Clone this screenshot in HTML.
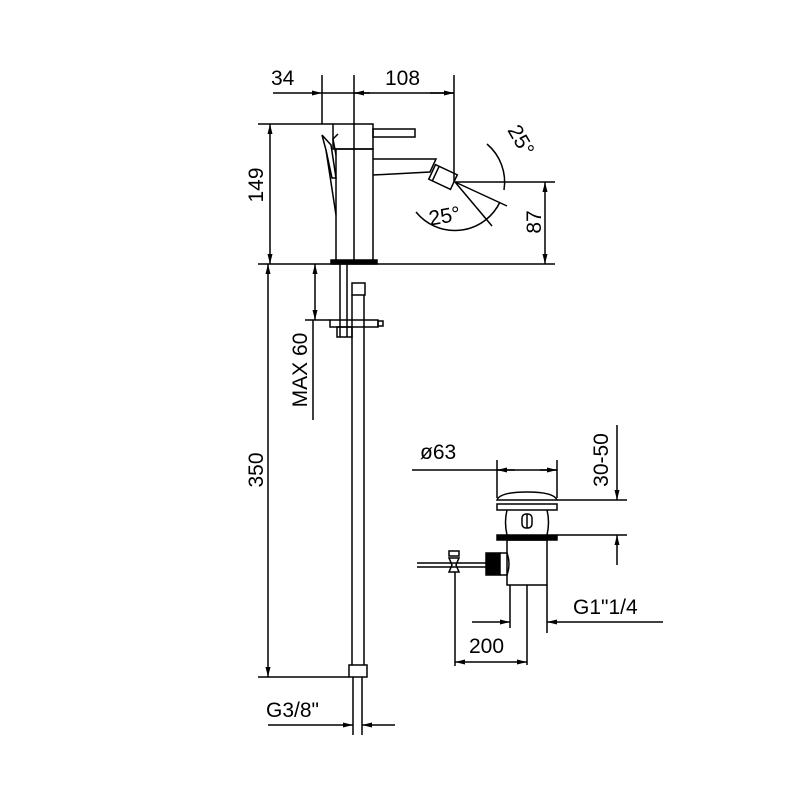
<!DOCTYPE html>
<html><head><style>body{margin:0;background:#fff}svg{display:block}</style></head><body>
<svg width="800" height="800" viewBox="0 0 800 800" xmlns="http://www.w3.org/2000/svg">
<defs>
<marker id="a" viewBox="0 0 10 6" refX="10" refY="3" markerWidth="10" markerHeight="6" orient="auto-start-reverse" markerUnits="userSpaceOnUse"><path d="M0,0.5L10,3L0,5.5z" fill="#000"/></marker>
</defs>
<rect width="800" height="800" fill="#fff"/>
<g stroke="#000" stroke-width="1.5" fill="none">
<line x1="322" y1="75" x2="322" y2="124"/>
<line x1="354" y1="75" x2="354" y2="264"/>
<line x1="454" y1="75" x2="454" y2="182"/>
<line x1="273" y1="93" x2="322" y2="93" marker-end="url(#a)"/>
<line x1="322" y1="93" x2="454" y2="93"/>
<line x1="354" y1="93" x2="370" y2="93" marker-start="url(#a)"/>
<line x1="430" y1="93" x2="454" y2="93" marker-end="url(#a)"/>
<line x1="258" y1="124" x2="333" y2="124"/>
<line x1="258" y1="264" x2="555" y2="264"/>
<line x1="455" y1="182" x2="555" y2="182"/>
<line x1="270" y1="124" x2="270" y2="264" marker-start="url(#a)" marker-end="url(#a)"/>
<line x1="545" y1="182" x2="545" y2="264" marker-start="url(#a)" marker-end="url(#a)"/>
<rect x="333" y="124" width="40" height="25"/>
<rect x="336" y="149" width="37" height="112"/>
<rect x="373" y="129" width="42" height="8"/>
<path d="M373,159 L436,159 L430,172 L373,175"/>
<path d="M336,155 L333,139 L338,134"/>
<path d="M322,135 L326,150 L332,178 L336,178 L331,145 Z"/>
<line x1="326" y1="150" x2="336" y2="215"/>
<g transform="translate(443,177) rotate(25)"><rect x="-12" y="-8" width="24" height="16"/><line x1="-8" y1="-8" x2="-8" y2="8"/></g>
<line x1="455" y1="182" x2="507" y2="206"/>
<line x1="455" y1="182" x2="492" y2="226"/>
<path d="M487,144 A50,50 0 0 1 504,190" />
<path d="M500,202 A50,50 0 0 1 416,212"/>
<rect x="331" y="260" width="46" height="4" fill="#000"/>
<line x1="340" y1="264" x2="340" y2="337"/>
<line x1="347" y1="264" x2="347" y2="337"/>
<rect x="352" y="283" width="13" height="12"/>
<line x1="352" y1="295" x2="352" y2="665"/>
<line x1="364" y1="295" x2="364" y2="665"/>
<rect x="330" y="320" width="48" height="7"/>
<rect x="378" y="321" width="5" height="5"/>
<rect x="337" y="327" width="15" height="10"/>
<rect x="349" y="665" width="18" height="12"/>
<line x1="353" y1="677" x2="353" y2="735"/>
<line x1="362" y1="677" x2="362" y2="735"/>
<line x1="305" y1="320" x2="330" y2="320"/>
<line x1="315" y1="264" x2="315" y2="320" marker-start="url(#a)" marker-end="url(#a)"/>
<line x1="313" y1="320" x2="313" y2="420"/>
<line x1="268" y1="264" x2="268" y2="677" marker-start="url(#a)" marker-end="url(#a)"/>
<line x1="258" y1="677" x2="349" y2="677"/>
<line x1="268" y1="725" x2="353" y2="725" marker-end="url(#a)"/>
<line x1="362" y1="725" x2="395" y2="725" marker-start="url(#a)"/>
<line x1="412" y1="470" x2="557" y2="470"/>
<line x1="497" y1="470" x2="515" y2="470" marker-start="url(#a)"/>
<line x1="540" y1="470" x2="557" y2="470" marker-end="url(#a)"/>
<line x1="497" y1="460" x2="497" y2="498"/>
<line x1="557" y1="460" x2="557" y2="498"/>
<path d="M497,500 Q500,492 527,492 Q554,492 557,500 Z"/>
<line x1="557" y1="500" x2="627" y2="500"/>
<line x1="557" y1="535" x2="627" y2="535"/>
<line x1="617" y1="425" x2="617" y2="500" marker-end="url(#a)"/>
<line x1="617" y1="535" x2="617" y2="565" marker-start="url(#a)"/>
<rect x="497" y="504" width="60" height="6"/>
<path d="M507,510 Q504,522 507,535 M547,510 Q550,522 547,535"/>
<rect x="522" y="514" width="10" height="14" rx="4"/>
<line x1="527" y1="514" x2="527" y2="528"/>
<rect x="497" y="535" width="60" height="5" fill="#000"/>
<rect x="507" y="540" width="40" height="45"/>
<line x1="510" y1="585" x2="510" y2="628"/>
<line x1="547" y1="585" x2="547" y2="633"/>
<line x1="527" y1="585" x2="527" y2="665"/>
<line x1="417" y1="563" x2="488" y2="563"/>
<line x1="417" y1="567" x2="488" y2="567"/>
<rect x="449" y="551" width="10" height="5"/>
<path d="M449,558 L459,558 L456,565 L459,572 L449,572 L452,565 Z"/>
<rect x="486" y="553" width="14" height="22" fill="#000"/>
<path d="M500,553 L507,553 Q511,564 507,575 L500,575"/>
<line x1="455" y1="572" x2="455" y2="666"/>
<line x1="455" y1="662" x2="527" y2="662" marker-start="url(#a)" marker-end="url(#a)"/>
<line x1="472" y1="622" x2="510" y2="622" marker-end="url(#a)"/>
<line x1="547" y1="622" x2="663" y2="622" marker-start="url(#a)"/>
</g>
<g font-family="Liberation Sans, sans-serif" font-size="21" fill="#000">
<text x="271" y="85">34</text>
<text x="385" y="85">108</text>
<text transform="translate(263,185) rotate(-90)" text-anchor="middle">149</text>
<text transform="translate(541,222) rotate(-90)" text-anchor="middle">87</text>
<text transform="translate(507,130) rotate(60)">25°</text>
<text x="428" y="222" transform="rotate(-10 450 212)">25°</text>
<text transform="translate(307,370) rotate(-90)" text-anchor="middle">MAX 60</text>
<text transform="translate(263,470) rotate(-90)" text-anchor="middle">350</text>
<text x="266" y="717">G3/8"</text>
<text x="420" y="459">ø63</text>
<text transform="translate(608,460) rotate(-90)" text-anchor="middle">30-50</text>
<text x="573" y="614">G1"1/4</text>
<text x="469" y="653">200</text>
</g>
</svg>
</body></html>
